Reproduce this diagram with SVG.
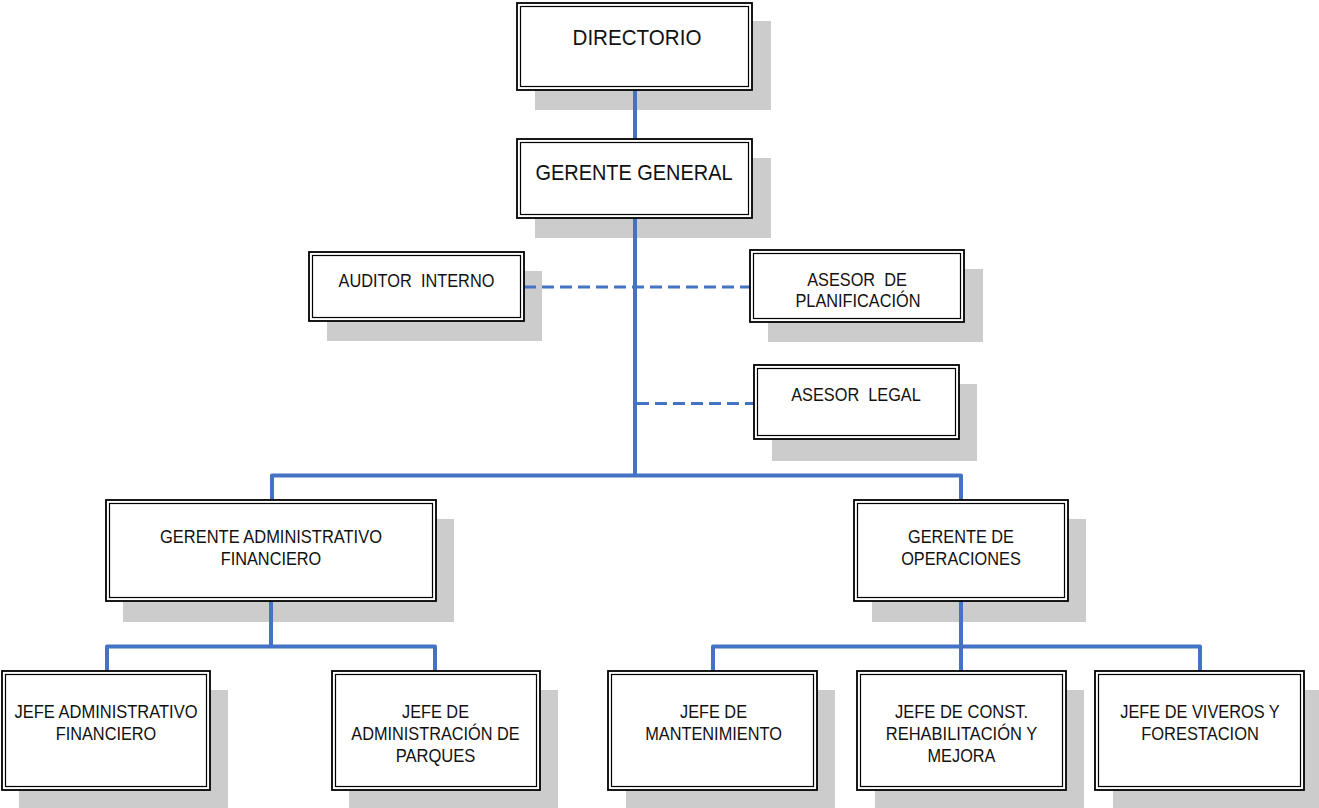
<svg xmlns="http://www.w3.org/2000/svg" width="1319" height="808" viewBox="0 0 1319 808">
  <style>
    .shadow { fill: #cccccc; stroke: none; }
    .outer { fill: #ffffff; stroke: #000000; stroke-width: 1.8; }
    .inner { fill: none; stroke: #000000; stroke-width: 1.2; }
    .lbl { font-family: "Liberation Sans", Arial, sans-serif; font-size: 18.7px; fill: #111111; text-anchor: middle; }
    .big { font-size: 22px; }
    .solid { fill: none; stroke: #4472c4; stroke-width: 4; stroke-linejoin: round; stroke-linecap: butt; }
    .dash { fill: none; stroke: #4472c4; stroke-width: 3; stroke-dasharray: 12 6; }
  </style>
  <rect width="1319" height="808" fill="#ffffff"/>

  <!-- drop shadows behind the boxes -->
  <g id="shadows">
    <rect class="shadow" x="535" y="21" width="236" height="89"/>
    <rect class="shadow" x="535" y="158" width="236" height="80"/>
    <rect class="shadow" x="327" y="271" width="215" height="70"/>
    <rect class="shadow" x="768" y="269" width="215" height="73"/>
    <rect class="shadow" x="772" y="384" width="205" height="77"/>
    <rect class="shadow" x="123" y="519" width="331" height="103"/>
    <rect class="shadow" x="872" y="519" width="214" height="103"/>
    <rect class="shadow" x="19" y="690" width="209" height="120"/>
    <rect class="shadow" x="349" y="690" width="209" height="120"/>
    <rect class="shadow" x="626" y="690" width="209" height="120"/>
    <rect class="shadow" x="875" y="690" width="209" height="120"/>
    <rect class="shadow" x="1113" y="690" width="209" height="120"/>
  </g>

  <!-- reporting lines -->
  <g id="connectors">
    <path class="solid" d="M635 90 V139"/>
    <path class="solid" d="M635 218 V475.5"/>
    <path class="solid" d="M272 500 V475.5 H961 V500"/>
    <path class="solid" d="M271 601 V646.5"/>
    <path class="solid" d="M107 671 V646.5 H435 V671"/>
    <path class="solid" d="M961 601 V671"/>
    <path class="solid" d="M713 671 V646.5 H1200 V671"/>
    <path class="dash" d="M524 287 H750"/>
    <path class="dash" d="M637 403.5 H754"/>
  </g>

  <g id="directorio">
    <rect class="outer" x="517" y="3" width="235" height="87"/>
    <rect class="inner" x="520.5" y="6.5" width="228" height="80"/>
    <text class="lbl big" x="637" y="45" textLength="129" lengthAdjust="spacingAndGlyphs">DIRECTORIO</text>
  </g>

  <g id="gerente-general">
    <rect class="outer" x="517" y="139" width="235" height="79"/>
    <rect class="inner" x="520.5" y="142.5" width="228" height="72"/>
    <text class="lbl big" x="634" y="180" textLength="197" lengthAdjust="spacingAndGlyphs">GERENTE GENERAL</text>
  </g>

  <g id="auditor-interno">
    <rect class="outer" x="309" y="252" width="215" height="69"/>
    <rect class="inner" x="312.5" y="255.5" width="208" height="62"/>
    <text class="lbl" x="416.5" y="287" textLength="155.8" lengthAdjust="spacingAndGlyphs" xml:space="preserve">AUDITOR  INTERNO</text>
  </g>

  <g id="asesor-planificacion">
    <rect class="outer" x="750" y="250" width="214" height="72"/>
    <rect class="inner" x="753.5" y="253.5" width="207" height="65"/>
    <text class="lbl" x="857" y="285.7" textLength="99.6" lengthAdjust="spacingAndGlyphs" xml:space="preserve">ASESOR  DE</text>
    <text class="lbl" x="858" y="306.7" textLength="125" lengthAdjust="spacingAndGlyphs">PLANIFICACIÓN</text>
  </g>

  <g id="asesor-legal">
    <rect class="outer" x="754" y="365" width="205" height="74"/>
    <rect class="inner" x="757.5" y="368.5" width="198" height="67"/>
    <text class="lbl" x="856" y="401" textLength="129.6" lengthAdjust="spacingAndGlyphs" xml:space="preserve">ASESOR  LEGAL</text>
  </g>

  <g id="gerente-adm-financiero">
    <rect class="outer" x="106" y="500" width="330" height="101"/>
    <rect class="inner" x="109.5" y="503.5" width="323" height="94"/>
    <text class="lbl" x="271" y="542.7" textLength="221.9" lengthAdjust="spacingAndGlyphs">GERENTE ADMINISTRATIVO</text>
    <text class="lbl" x="271" y="565" textLength="100.5" lengthAdjust="spacingAndGlyphs">FINANCIERO</text>
  </g>

  <g id="gerente-operaciones">
    <rect class="outer" x="854" y="500" width="214" height="101"/>
    <rect class="inner" x="857.5" y="503.5" width="207" height="94"/>
    <text class="lbl" x="961" y="542.7" textLength="106" lengthAdjust="spacingAndGlyphs">GERENTE DE</text>
    <text class="lbl" x="961" y="564.5" textLength="119.6" lengthAdjust="spacingAndGlyphs">OPERACIONES</text>
  </g>

  <g id="jefe-adm-financiero">
    <rect class="outer" x="2" y="671" width="208" height="119"/>
    <rect class="inner" x="5.5" y="674.5" width="201" height="112"/>
    <text class="lbl" x="106" y="718.3" textLength="183" lengthAdjust="spacingAndGlyphs">JEFE ADMINISTRATIVO</text>
    <text class="lbl" x="106" y="740" textLength="100.5" lengthAdjust="spacingAndGlyphs">FINANCIERO</text>
  </g>

  <g id="jefe-adm-parques">
    <rect class="outer" x="332" y="671" width="208" height="119"/>
    <rect class="inner" x="335.5" y="674.5" width="201" height="112"/>
    <text class="lbl" x="435.5" y="718.3" textLength="67" lengthAdjust="spacingAndGlyphs">JEFE DE</text>
    <text class="lbl" x="435.5" y="740" textLength="168.4" lengthAdjust="spacingAndGlyphs">ADMINISTRACIÓN DE</text>
    <text class="lbl" x="435.5" y="761.7" textLength="79.7" lengthAdjust="spacingAndGlyphs">PARQUES</text>
  </g>

  <g id="jefe-mantenimiento">
    <rect class="outer" x="608" y="671" width="209" height="119"/>
    <rect class="inner" x="611.5" y="674.5" width="202" height="112"/>
    <text class="lbl" x="713.5" y="718.3" textLength="67" lengthAdjust="spacingAndGlyphs">JEFE DE</text>
    <text class="lbl" x="713.5" y="740" textLength="136.7" lengthAdjust="spacingAndGlyphs">MANTENIMIENTO</text>
  </g>

  <g id="jefe-construccion">
    <rect class="outer" x="857" y="671" width="209" height="119"/>
    <rect class="inner" x="860.5" y="674.5" width="202" height="112"/>
    <text class="lbl" x="961.5" y="718.3" textLength="133.1" lengthAdjust="spacingAndGlyphs">JEFE DE CONST.</text>
    <text class="lbl" x="961.5" y="740" textLength="151.3" lengthAdjust="spacingAndGlyphs">REHABILITACIÓN Y</text>
    <text class="lbl" x="961.5" y="761.7" textLength="67.9" lengthAdjust="spacingAndGlyphs">MEJORA</text>
  </g>

  <g id="jefe-viveros">
    <rect class="outer" x="1095" y="671" width="209" height="119"/>
    <rect class="inner" x="1098.5" y="674.5" width="202" height="112"/>
    <text class="lbl" x="1200" y="718.3" textLength="159.4" lengthAdjust="spacingAndGlyphs">JEFE DE VIVEROS Y</text>
    <text class="lbl" x="1200" y="740" textLength="117.7" lengthAdjust="spacingAndGlyphs">FORESTACION</text>
  </g>
</svg>
